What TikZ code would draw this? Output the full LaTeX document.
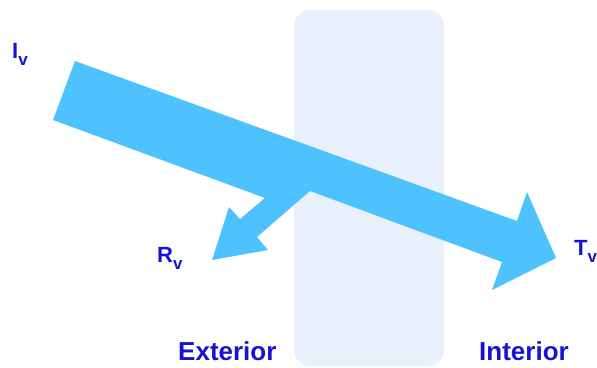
\documentclass[tikz,border=0pt]{standalone}
\usepackage{fontspec}
\setmainfont{Liberation Sans}
\definecolor{arrowblue}{RGB}{78,194,255}
\definecolor{panefill}{RGB}{232,240,252}
\definecolor{labelblue}{RGB}{20,20,210}
\newcommand{\lbl}[2]{#1\raisebox{-7pt}{\fontsize{17}{17}\selectfont #2}}
\begin{document}
\begin{tikzpicture}[x=1pt,y=-1pt,
  lab/.style={inner sep=0pt,font=\bfseries\fontsize{22}{22}\selectfont,text=labelblue,anchor=base west},
  side/.style={inner sep=0pt,font=\bfseries\fontsize{26}{26}\selectfont,text=labelblue,anchor=base west}]
\useasboundingbox (0,0) rectangle (597,367);
% glazing pane
\fill[panefill,rounded corners=16pt] (294,10) rectangle (444,366);
% incident / transmitted / reflected arrow
\fill[arrowblue] (75,61) -- (517,221) -- (527,192) -- (556,258) -- (492,290) -- (502,262)
  -- (310,191) -- (257,237) -- (268,250) -- (212,260) -- (229,207) -- (240,219)
  -- (265,198) -- (53,120) -- cycle;
% labels
\node[lab] (iv) at (12,58) {\lbl{I}{v}};
\node[lab] (rv) at (157,262) {\lbl{R}{v}};
\node[lab] (tv) at (574,255) {\lbl{T}{v}};
\node[side] (ext) at (178,360) {Exterior};
\node[side] (int) at (479,360) {Interior};
\end{tikzpicture}
\end{document}
